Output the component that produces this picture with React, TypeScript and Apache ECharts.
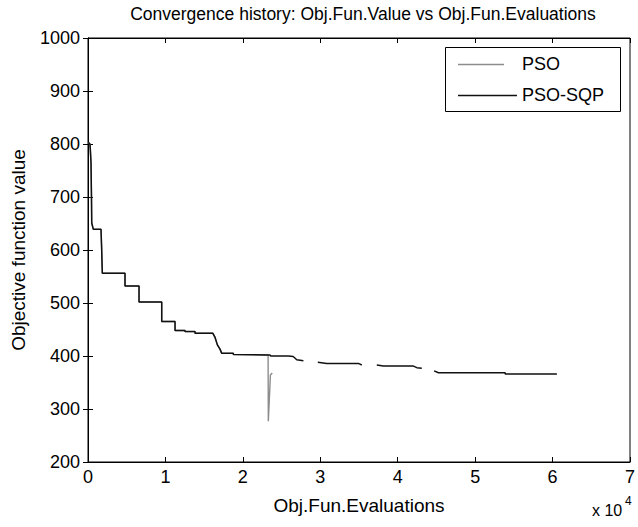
import React, { useEffect, useRef } from "react";
import * as echarts from "echarts";

const titleText = "Convergence history: Obj.Fun.Value vs Obj.Fun.Evaluations";
const xAxisName = "Obj.Fun.Evaluations";
const yAxisName = "Objective function value";
const seriesNames = ["PSO", "PSO-SQP"];
const seriesColors = ["#8c8c8c", "#111111"];

// common staircase (both algorithms) [evaluations, objective value]
const sharedSteps: [number, number][] = [
  [40, 803], [250, 800], [300, 790], [390, 764], [450, 700], [480, 651], [690, 639],
  [1680, 639], [1750, 609], [1850, 556], [4780, 556], [4780, 532], [6590, 532],
  [6590, 502], [9520, 502], [9520, 465], [11240, 465], [11240, 448], [12530, 448],
  [12530, 446], [13820, 446], [13820, 443], [16110, 443], [16410, 435], [16710, 421],
  [17050, 413], [17270, 405], [18770, 405], [18770, 403], [23260, 402],
];

// PSO tail: sudden dip
const psoTail: [number, number][] = [
  [23290, 277], [23380, 277], [23560, 364], [23800, 368],
];

// PSO-SQP tail (null = gap in the drawn line)
const sqpTail: ([number, number] | null)[] = [
  [23500, 402], [23600, 400], [25880, 400], [26500, 399], [26960, 393], [27820, 391],
  null,
  [29680, 388], [30840, 386], [34920, 386], [35360, 383],
  null,
  [37300, 383], [38150, 381], [42030, 381], [42470, 378], [43110, 377],
  null,
  [44700, 372], [45260, 368.5], [53880, 368.5], [53880, 366], [60560, 366],
];

const xMin = 0;
const xMax = 70000;
const xInterval = 10000;
const yMin = 200;
const yMax = 1000;
const yInterval = 100;

const FONT = "'Liberation Sans', Arial, Helvetica, sans-serif";

export default function App() {
  const ref = useRef<HTMLDivElement>(null);
  useEffect(() => {
    if (!ref.current) return;
    const chart = echarts.init(ref.current, null, { renderer: "svg" });
    const toData = (arr: ([number, number] | null)[]) =>
      arr.map((p) => (p === null ? "-" : p));
    const tick = { show: true, inside: true, length: 5, lineStyle: { color: "#000", width: 1 } };
    const axisLine = { show: true, lineStyle: { color: "#000", width: 1 } };
    const grid = { left: 88, right: 8, top: 38, bottom: 65 };
    const option: any = {
      animation: false,
      backgroundColor: "#fff",
      title: {
        text: titleText,
        left: 358,
        top: 0,
        textAlign: "center",
        textStyle: { fontFamily: FONT, fontSize: 17.5, fontWeight: "normal", color: "#000" },
      },
      grid: {
        ...grid, show: true, borderColor: "#000", borderWidth: 1, backgroundColor: "#fff",
        containLabel: false, outerBoundsMode: "none",
      },
      xAxis: [
        {
          type: "value", min: xMin, max: xMax, interval: xInterval,
          axisLine, axisTick: tick, splitLine: { show: false },
          axisLabel: {
            color: "#000", fontFamily: FONT, fontSize: 18, margin: 6,
            formatter: (v: number) => String(v / 10000),
          },
          name: xAxisName, nameLocation: "middle", nameGap: 34,
          nameTextStyle: { color: "#000", fontFamily: FONT, fontSize: 19 },
        },
        {
          type: "value", position: "top", min: xMin, max: xMax, interval: xInterval,
          axisLine, axisTick: tick, axisLabel: { show: false }, splitLine: { show: false },
        },
      ],
      yAxis: [
        {
          type: "value", min: yMin, max: yMax, interval: yInterval,
          axisLine, axisTick: tick, splitLine: { show: false },
          axisLabel: {
            color: "#000", fontFamily: FONT, fontSize: 18, margin: 8,
            formatter: (v: number) => String(v),
          },
          name: yAxisName, nameLocation: "middle", nameGap: 60,
          nameTextStyle: { color: "#000", fontFamily: FONT, fontSize: 19 },
        },
        {
          type: "value", position: "right", min: yMin, max: yMax, interval: yInterval,
          axisLine, axisTick: tick, axisLabel: { show: false }, splitLine: { show: false },
        },
      ],
      series: [
        {
          name: seriesNames[0], type: "line", showSymbol: false, symbol: "none",
          data: toData([...sharedSteps, ...psoTail]),
          lineStyle: { color: seriesColors[0], width: 1.4 },
          itemStyle: { color: seriesColors[0] },
          connectNulls: false,
        },
        {
          name: seriesNames[1], type: "line", showSymbol: false, symbol: "none",
          data: toData([...sharedSteps, ...sqpTail]),
          lineStyle: { color: seriesColors[1], width: 1.5 },
          itemStyle: { color: seriesColors[1] },
          connectNulls: false,
        },
      ],
      graphic: [
        {
          type: "rect", shape: { x: 445.5, y: 47.5, width: 175, height: 64 },
          style: { fill: "#fff", stroke: "#000", lineWidth: 1 }, z: 100,
        },
        {
          type: "line", shape: { x1: 458, y1: 64.5, x2: 504, y2: 64.5 },
          style: { stroke: seriesColors[0], lineWidth: 1.3 }, z: 101,
        },
        {
          type: "text", x: 522, y: 64, z: 101,
          style: { text: seriesNames[0], fill: "#000", font: `18px ${FONT}`, verticalAlign: "middle" },
        },
        {
          type: "line", shape: { x1: 458, y1: 95.5, x2: 517, y2: 95.5 },
          style: { stroke: seriesColors[1], lineWidth: 1.3 }, z: 101,
        },
        {
          type: "text", x: 522, y: 95, z: 101,
          style: { text: seriesNames[1], fill: "#000", font: `18px ${FONT}`, verticalAlign: "middle" },
        },
        {
          type: "text", x: 592, y: 502, z: 101,
          style: { text: "x 10", fill: "#000", font: `16px ${FONT}` },
        },
        {
          type: "text", x: 625, y: 495, z: 101,
          style: { text: "4", fill: "#000", font: `12px ${FONT}` },
        },
      ],
    };
    chart.setOption(option);
    return () => chart.dispose();
  }, []);
  return (
    <div
      ref={ref}
      style={{ position: "absolute", left: 0, top: 0, width: 638, height: 527, background: "#fff" }}
    />
  );
}
